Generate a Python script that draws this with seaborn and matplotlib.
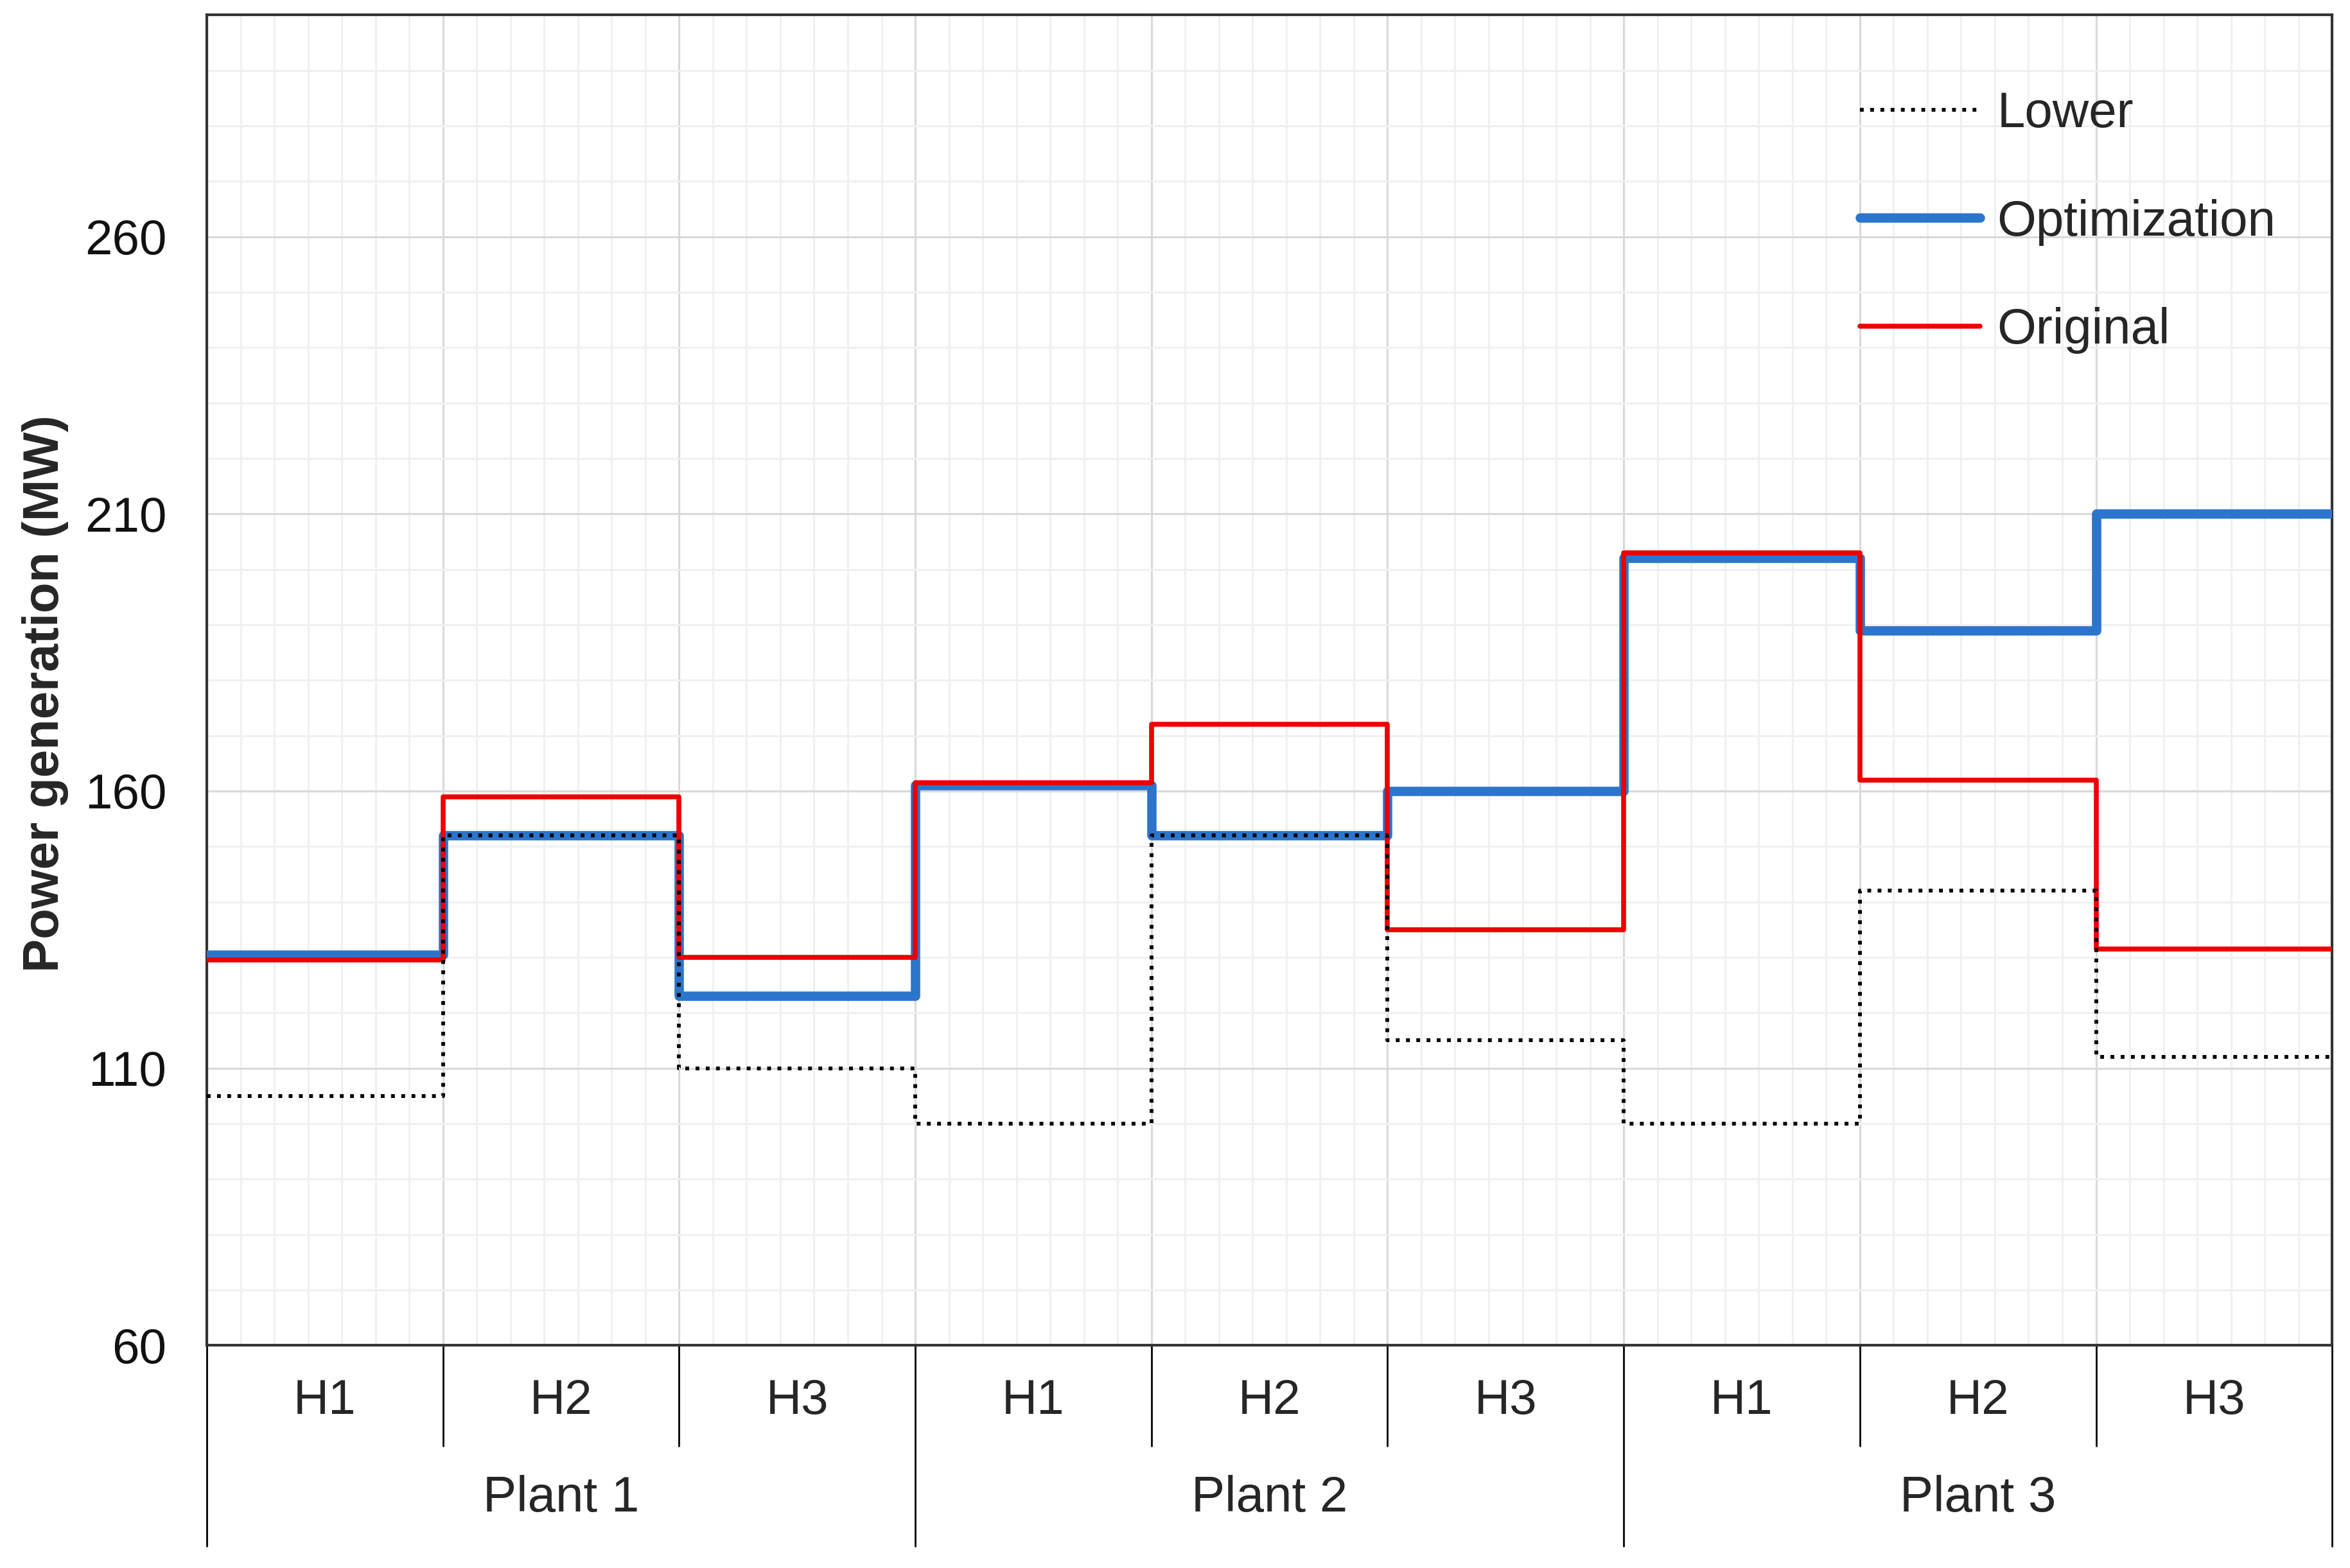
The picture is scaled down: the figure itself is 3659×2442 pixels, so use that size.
import matplotlib
matplotlib.use("Agg")
import matplotlib.pyplot as plt
from matplotlib.ticker import MultipleLocator
import seaborn as sns
import numpy as np
import pandas as pd

# datos
plants = ['Plant 1', 'Plant 2', 'Plant 3']
hours = ['H1', 'H2', 'H3']
lower = [105, 152, 110, 100, 152, 115, 100, 142, 112]
optimization = [130.5, 152, 123, 161, 152, 160, 202, 189, 210]
original = [129.5, 159, 130, 161.5, 172, 135, 203, 162, 131.5]

yticks = [60, 110, 160, 210, 260]
ylims = (60, 300)

sns.set_style('white')
plt.rcParams['font.family'] = ['Liberation Sans', 'DejaVu Sans']

fig, ax = plt.subplots(figsize=(3659 / 250, 2442 / 250), dpi=250)
fig.subplots_adjust(left=0.088, right=0.9924, top=0.9904, bottom=0.142)

n = len(plants) * len(hours)
pos = np.arange(n + 1)  # bordes de cada categoria, el ultimo repite el valor


def stepdf(vals):
    return pd.DataFrame({'x': pos, 'y': list(vals) + [vals[-1]]})


series = [
    ('Optimization', optimization, dict(color='#2b75cc', lw=4.2, zorder=3)),
    ('Original', original, dict(color='#ee0000', lw=2.2, zorder=4)),
    ('Lower', lower, dict(color='black', lw=1.7, linestyle=(0, (1, 1.7)), zorder=5)),
]
handles = {}
for name, vals, kw in series:
    sns.lineplot(data=stepdf(vals), x='x', y='y', drawstyle='steps-post',
                 ax=ax, sort=False, estimator=None, **kw)
    handles[name] = ax.lines[-1]

ax.set_xlim(0, n)
ax.set_ylim(*ylims)
ax.set_yticks(yticks)
ax.yaxis.set_minor_locator(MultipleLocator(10))
ax.xaxis.set_major_locator(MultipleLocator(1))
ax.xaxis.set_minor_locator(MultipleLocator(1 / 7))
ax.grid(which='major', color='#d9d9d9', lw=0.9, zorder=0)
ax.grid(which='minor', color='#f0f0f0', lw=0.9, zorder=0)
ax.set_axisbelow(True)
ax.tick_params(axis='both', which='both', length=0)
ax.tick_params(axis='x', labelbottom=False)
ax.tick_params(axis='y', labelsize=22, pad=18, colors='#111111')

for s in ax.spines.values():
    s.set_color('#333333')
    s.set_linewidth(1.2)

ax.set_xlabel('')
ax.set_ylabel('Power generation (MW)', fontsize=22.5, fontweight='bold')
ax.yaxis.set_label_coords(-0.065, 0.49)

# etiquetas jerarquicas del eje x
tr = ax.get_xaxis_transform()
for i in range(n):
    ax.text(i + 0.5, -0.042, hours[i % len(hours)], transform=tr,
            ha='center', va='center', fontsize=22)
    if i % len(hours) != 0:
        ax.plot([i, i], [0, -0.0755], transform=tr, color='black', lw=0.8, clip_on=False)
for j, p in enumerate(plants):
    ax.text(j * 3 + 1.5, -0.115, p, transform=tr, ha='center', va='center', fontsize=22.5)
for j in range(len(plants) + 1):
    ax.plot([j * 3, j * 3], [0, -0.151], transform=tr, color='black', lw=0.8, clip_on=False)

leg = ax.legend([handles['Lower'], handles['Optimization'], handles['Original']],
                ['Lower', 'Optimization', 'Original'],
                loc='upper left', bbox_to_anchor=(0.766, 0.962), frameon=False,
                fontsize=22.5, handlelength=2.4, handletextpad=0.33, labelspacing=1.22,
                borderpad=0)

plt.savefig('out.png', dpi=250)
